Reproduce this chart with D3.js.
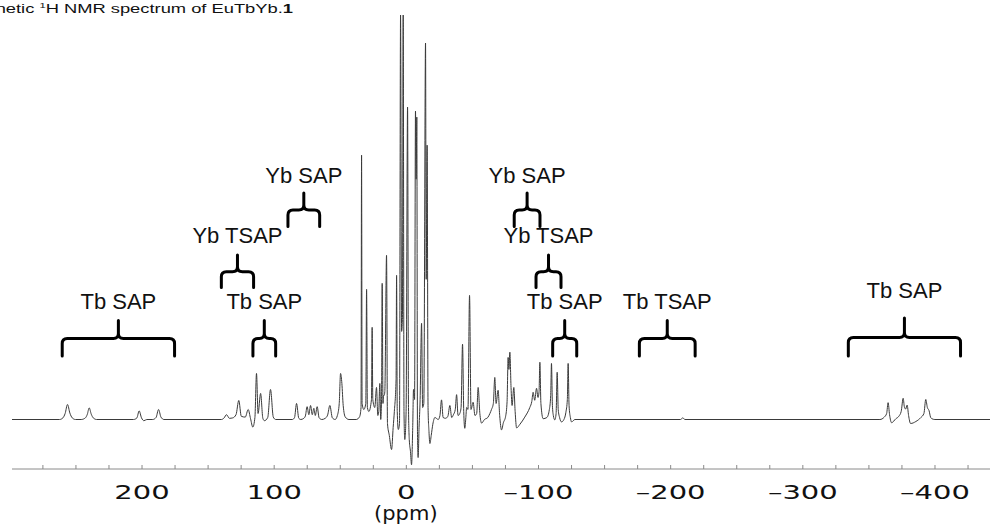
<!DOCTYPE html>
<html>
<head>
<meta charset="utf-8">
<script src="https://cdn.jsdelivr.net/npm/d3@7"></script>
<style>
  body { margin: 0; background: #fff; }
  svg { display: block; }
</style>
</head>
<body>
<div id="chart"></div>
<script>
// trace vertices: [shift (ppm), intensity (a.u.)]
var downfieldTb = [
  [298,0],[262,0],[259.5,0.4],[257.8,1.5],[256,3.75],[254.2,1.6],[252.4,0.4],[250,0],
  [245.6,0],[242.5,0.4],[241,1.3],[239.6,2.9],[238,1.3],[236.5,0.4],[234,0],
  [206,0],[203.5,0.4],[201.8,2.15],[200,0.4],[198.2,-0.3],[196,0],
  [191.5,0],[189,0.5],[187.1,2.5],[185.3,0.6],[183,0],[139.5,0]
];
var centralRegion = [
  [137.5,0.4],[135.7,1.2],[133.5,0.3],[131,0.4],[128.5,1.2],[126.4,4.75],[124.5,0.8],[121.5,0.6],
  [119.3,2.5],[117.5,0.2],[115.8,-1.9],[114.2,0.5],[113,11.5],[111.8,1.5],[109.9,6.5],[108.2,0.3],
  [107,-0.3],[104.5,0.5],[102.4,7.5],[100.3,0.6],[98.5,0],
  [85.8,0],[84.2,0.5],[82.7,4],[81,0.3],[79.5,0],[77.2,0.3],[76,0.9],[74.7,3.2],[73.4,1.2],
  [72.1,3.5],[70.8,1.2],[69.6,2.8],[68.5,1],[67.1,3.2],[65.6,0.4],[63.5,0],[61,0.3],[59.2,1.1],
  [57.5,3.5],[55.6,0.4],[53.5,0],[51.8,1],[50.4,4],[49.4,11.5],[48.4,9],[47.4,3.5],[45.8,0.6],[43,0],
  [37.5,0],[35,0.7],[33.9,3],[33.5,66],[33.1,4],[31.8,2.5],[30.3,4],[29.7,32.5],[29.1,3],[28,2],
  [26,5],[25.5,23],[25,5],[23.5,3],[22.2,8],[21.2,1],[20.5,2],[19.7,9],[19,0],[18.4,5],[17.9,34],
  [17.3,4],[16.9,6],[16.4,6],[15.9,7],[14.6,41],[13.9,-1],[12.5,-4],[10.8,-7.5],[9.6,-2],[8.7,2],
  [7.4,10],[7,36],[6.5,2],[5.7,-2.5],[4.8,-1],[4,101],[3.2,22],[2.6,25],[2,101],[1.4,2],[0.8,-5],
  [-0.2,2],[-1.3,78],[-2,3],[-2.6,-5],[-3.5,-8],[-4.3,-11.3],[-5.2,-2],[-5.8,7.5],[-6.6,5],
  [-7.3,77],[-7.8,60],[-8.3,75.5],[-8.8,-3],[-9.3,-9.5],[-10,-2],[-10.8,5],[-11.9,24],[-12.7,3],
  [-13.6,4],[-14.9,94],[-15.4,35],[-16.1,68.5],[-16.8,3],[-17.5,-3],[-18.2,-6],[-19.2,-4],
  [-20.4,-1.2],[-22,0.5],[-24.5,0],[-25.8,1],[-27,4.9],[-28.2,0.5],[-30,0.3],[-31.8,0.8],
  [-33.3,3.5],[-34.7,0.5],[-36,1.2],[-37.4,2.5],[-38.4,6.2],[-39.5,1],[-40.8,1.5],[-41.8,3],
  [-42.9,18.8],[-43.8,2],[-44.6,-2.2],[-45.4,0.5],[-46,3],[-47,2.5],[-48.2,31],[-49.3,2.5],
  [-50.9,4.3],[-52.3,1],[-53.6,1.5],[-54.7,8],[-56,1.5],[-57.3,-0.9],[-59.5,0],[-62,0.5],
  [-63.6,1.5],[-64.8,2.5],[-66.2,4],[-67.3,10.5],[-68.3,4],[-69.8,7.3],[-71,1],[-72.4,-2.6],
  [-73.8,-0.8],[-75.5,0.8],[-76.6,4.5],[-77.4,15.5],[-78,12.5],[-78.7,16.8],[-79.6,8],[-80.4,3.5],
  [-81.7,8],[-82.7,2],[-83.8,-2.1],[-86.3,-1.2],[-90,0.6],[-93.8,3],[-95.3,4.5],[-96.3,6.8],
  [-97.5,4.8],[-98.9,7.8],[-100,5.5],[-100.8,7],[-101.4,14.3],[-102.2,4],[-103.9,0.2],[-106.7,0.5],
  [-108.6,2.5],[-109.6,6],[-110.2,14],[-110.9,3.5],[-111.6,1],[-112.7,-0.1],[-113.7,1.5],
  [-114.5,11.8],[-115.3,2.5],[-116.4,0.4],[-117.8,-0.6],[-119.6,0],[-121.1,1.8],[-122.2,5],
  [-122.8,14],[-123.5,3.5],[-124.5,0.5],[-125.4,-0.6],[-127.9,0]
];
var upfieldTb = [
  [-207.8,0],[-209.6,0.4],[-211.1,0],
  [-358.7,0],[-362,0.6],[-363.8,1.5],[-364.9,4.2],[-366,1.2],[-367.5,-0.8],[-370.8,0.2],[-373,0.8],
  [-374.8,2],[-376.3,5.3],[-377.2,3.2],[-378.2,2.6],[-379.3,3.6],[-380.4,1],[-381.9,-1],[-385.9,-0.5],
  [-389.7,0.5],[-392,1.5],[-393.4,5],[-394.6,3],[-395.9,2.2],[-397,0.6],[-398,0.2],[-400.3,0],[-442,0]
];

var axisTicks = d3.range(-425, 300, 25);
var axisLabels = [200, 100, 0, -100, -200, -300, -400];

// assignment brackets: label, ppm range, row (0 = lowest, 3 = lowest with raised label)
var bracketLabel = ["Tb SAP", "Tb SAP", "Yb TSAP", "Yb SAP", "Yb SAP", "Yb TSAP", "Tb SAP", "Tb TSAP", "Tb SAP"];
var bracketFrom  = [260, 115.7, 139.6, 89.2, -82, -98.5, -111.1, -176.7, -334.8];
var bracketTo    = [175, 98.5, 115.2, 65.2, -101.5, -117.4, -129.3, -218.9, -419.7];
var bracketRow   = [0, 0, 1, 2, 2, 1, 0, 0, 3];

var width = 990, height = 528;

var svg = d3.select("#chart").append("svg")
    .attr("width", width)
    .attr("height", height);

var x = d3.scaleLinear().domain([298, -442]).range([12, 990]);
var y = d3.scaleLinear().domain([0, 101]).range([419.5, 15]);

// row geometry: bar height, tip top, leg bottom, label baseline
var rows = [
  { bar: 338.5, tip: 320.5, leg: 356, text: 309 },
  { bar: 271.7, tip: 255, leg: 287.5, text: 242.5 },
  { bar: 210, tip: 193, leg: 226.5, text: 182.5 },
  { bar: 337.5, tip: 318, leg: 356, text: 298 }
];

// title (cropped at the left edge, as in the source figure)
var title = svg.append("text")
    .attr("transform", "translate(293,12.5) scale(1.41,1)")
    .attr("text-anchor", "end")
    .style("font-family", "Liberation Sans, Arial, sans-serif")
    .style("font-size", "13px")
    .attr("fill", "#111");
title.append("tspan").text("Paramagnetic ");
title.append("tspan").attr("dy", -5).style("font-size", "8px").text("1");
title.append("tspan").attr("dy", 5).text("H NMR spectrum of EuTbYb.");
title.append("tspan").style("font-weight", "bold").text("1");

// spectrum
var trace = downfieldTb.concat(centralRegion, upfieldTb);

svg.append("path")
    .datum(trace)
    .attr("fill", "none")
    .attr("stroke", "#3a3a3a")
    .attr("stroke-width", 1)
    .attr("d", d3.line()
      .x(function(d) { return x(d[0]); })
      .y(function(d) { return y(d[1]); })
      .curve(d3.curveMonotoneX));

// axis
var axis = svg.append("g")
    .attr("transform", "translate(0,469)")
    .call(d3.axisBottom(x)
      .tickValues(axisTicks)
      .tickSize(-4)
      .tickFormat(function(d) {
        if (axisLabels.indexOf(d) < 0) return "";
        return d < 0 ? "\u2013" + (-d) : String(d);
      }));

axis.select(".domain").attr("stroke", "#8a8a8a").attr("d", "M12,0H990");
axis.selectAll(".tick line").attr("stroke", "#8a8a8a");
axis.selectAll(".tick text")
    .attr("y", 30)
    .attr("dy", 0)
    .attr("transform", "scale(1.45,1)")
    .attr("fill", "#111")
    .style("font-family", "DejaVu Sans, sans-serif")
    .style("font-size", "20px");

svg.append("text")
    .attr("transform", "translate(" + x(0) + ",520) scale(1.05,1)")
    .attr("text-anchor", "middle")
    .attr("fill", "#111")
    .style("font-family", "DejaVu Sans, sans-serif")
    .style("font-size", "20px")
    .text("(ppm)");

// brackets
var r = 5;
bracketLabel.forEach(function(label, i) {
  var row = rows[bracketRow[i]];
  var x1 = x(bracketFrom[i]), x2 = x(bracketTo[i]), xm = (x1 + x2) / 2;
  var p = "M" + x1 + "," + row.leg +
    "V" + (row.bar + r) +
    "Q" + x1 + "," + row.bar + " " + (x1 + r) + "," + row.bar +
    "H" + (xm - r) +
    "Q" + xm + "," + row.bar + " " + xm + "," + (row.bar - r) +
    "V" + row.tip +
    "M" + xm + "," + (row.bar - r) +
    "Q" + xm + "," + row.bar + " " + (xm + r) + "," + row.bar +
    "H" + (x2 - r) +
    "Q" + x2 + "," + row.bar + " " + x2 + "," + (row.bar + r) +
    "V" + row.leg;
  svg.append("path")
      .attr("d", p)
      .attr("fill", "none")
      .attr("stroke", "#000")
      .attr("stroke-width", 3)
      .attr("stroke-linecap", "round");
  svg.append("text")
      .attr("x", xm)
      .attr("y", row.text)
      .attr("text-anchor", "middle")
      .attr("fill", "#111")
      .style("font-family", "Liberation Sans, Arial, sans-serif")
      .style("font-size", "22px")
      .text(label);
});
</script>
</body>
</html>
